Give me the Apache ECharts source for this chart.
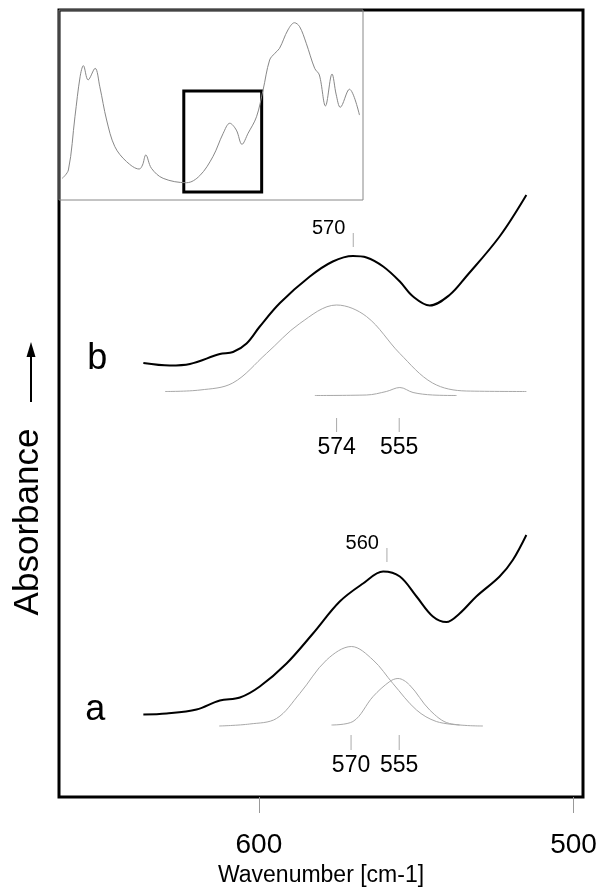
<!DOCTYPE html>
<html>
<head>
<meta charset="utf-8">
<script src="https://cdn.jsdelivr.net/npm/echarts@6/dist/echarts.min.js"></script>
<style>
  html, body { margin: 0; padding: 0; background: #fff; }
  #chart { width: 601px; height: 894px; }
</style>
</head>
<body>
<div id="chart"></div>
<script>
// wide survey spectrum shown in the inset, [wavenumber, absorbance]
const surveySpectrum = [
  [923, 0.114], [910, 0.158], [896, 0.438], [885, 0.649], [878, 0.707], [868, 0.632],
  [853, 0.693], [843, 0.596], [828.5, 0.421], [811, 0.281], [786, 0.202], [759, 0.163],
  [752, 0.184], [745, 0.237], [733, 0.167], [708, 0.114], [658, 0.091], [630, 0.128],
  [602, 0.228], [580, 0.351], [566, 0.404], [552, 0.368], [540, 0.293], [527, 0.351],
  [509, 0.438], [495, 0.579], [481, 0.737], [470, 0.772], [460, 0.798], [442, 0.895],
  [428, 0.933], [417, 0.912], [403, 0.825], [385, 0.693], [375, 0.658], [362, 0.495],
  [348, 0.663], [339, 0.553], [330.5, 0.488], [311, 0.583], [289.5, 0.447]
];
// zoomed region marked in the inset: wavenumbers and absorbance span
const zoomWn = [664, 498];
const zoomAbs = [0.042, 0.574];

// sample b: measured and fitted components
const curveB = [
  [636.7, 0.868], [628.3, 0.863], [621.9, 0.866], [612.4, 0.886], [608.2, 0.890],
  [603.9, 0.907], [599.7, 0.941], [593.3, 0.988], [583.8, 1.041], [576.5, 1.071],
  [570.1, 1.082], [565.8, 1.079], [560.5, 1.061], [555.2, 1.031], [551.0, 1.001],
  [545.7, 0.983], [539.4, 1.004], [534.1, 1.041], [523.5, 1.121], [515.0, 1.204]
];
const fitB574 = [
  [629.8, 0.811], [618.7, 0.814], [608.3, 0.828], [597.6, 0.887], [587.0, 0.947],
  [575.3, 0.984], [565.8, 0.961], [555.2, 0.887], [544.8, 0.828], [534.1, 0.812],
  [515.0, 0.811]
];
const fitB555 = [
  [582.2, 0.803], [565.8, 0.804], [559.5, 0.811], [555.2, 0.819], [551.0, 0.809],
  [544.8, 0.804], [537.2, 0.803]
];

// sample a: measured and fitted components
const curveA = [
  [636.7, 0.165], [629.3, 0.167], [619.8, 0.175], [612.4, 0.193], [606.0, 0.199],
  [599.7, 0.221], [591.2, 0.267], [582.8, 0.327], [574.3, 0.391], [566.9, 0.427],
  [560.5, 0.451], [555.2, 0.441], [549.9, 0.401], [544.7, 0.361], [540.4, 0.350],
  [536.2, 0.367], [530.9, 0.401], [523.5, 0.441], [519.3, 0.474], [515.0, 0.524]
];
const fitA570 = [
  [612.6, 0.142], [602.9, 0.146], [594.4, 0.157], [587.0, 0.207], [578.5, 0.274],
  [570.6, 0.301], [563.7, 0.274], [557.4, 0.227], [549.9, 0.174], [543.6, 0.151],
  [536.2, 0.144]
];
const fitA555 = [
  [576.9, 0.144], [570.1, 0.151], [563.7, 0.201], [558.4, 0.231], [555.8, 0.237],
  [552.1, 0.224], [545.7, 0.174], [539.4, 0.147], [528.8, 0.142]
];

// peak markers: position, tick span and text
const peakWn = [570, 575.3, 555.4, 559.3, 570.7, 555.4];
const peakTickTop = [1.128, 0.758, 0.758, 0.498, 0.124, 0.124];
const peakTickBottom = [1.100, 0.730, 0.730, 0.470, 0.094, 0.094];
const peakText = ['570', '574', '555', '560', '570', '555'];
const peakSide = ['left', 'below', 'below', 'left', 'below', 'below'];

const xTicks = [600, 500];
const FONT = "'Liberation Sans', Arial, sans-serif";

const chart = echarts.init(document.getElementById('chart'));

function spectrum(name, data, color, width, extra) {
  return Object.assign({
    name: name,
    type: 'line',
    xAxisIndex: 0,
    yAxisIndex: 0,
    data: data,
    smooth: 0.35,
    symbol: 'none',
    silent: true,
    lineStyle: { color: color, width: width },
    z: 3
  }, extra || {});
}

function letter(text, point, offset) {
  return {
    symbol: 'rect',
    symbolSize: 1,
    silent: true,
    itemStyle: { color: 'rgba(0,0,0,0)' },
    label: {
      show: true, position: 'inside', offset: offset, formatter: text,
      fontFamily: FONT, fontSize: 36, color: '#000'
    },
    data: [{ coord: point }]
  };
}

chart.setOption({
  animation: false,
  backgroundColor: '#fff',
  grid: [
    { left: 59, top: 10, width: 524, height: 787, show: true, borderColor: '#000', borderWidth: 3, backgroundColor: 'transparent' },
    { left: 59, top: 10, width: 304, height: 190, show: true, borderColor: '#888', borderWidth: 1, backgroundColor: 'transparent' }
  ],
  xAxis: [
    {
      type: 'value', gridIndex: 0, inverse: true, min: 497, max: 663.5,
      axisLine: { show: false },
      splitLine: { show: false },
      axisTick: { show: true, customValues: xTicks, length: 16, lineStyle: { color: '#999', width: 1 } },
      axisLabel: { customValues: xTicks, margin: 34, fontSize: 28, color: '#000', fontFamily: FONT },
      name: 'Wavenumber [cm-1]', nameLocation: 'middle', nameGap: 66,
      nameTextStyle: { fontSize: 23, color: '#000', fontFamily: FONT }
    },
    { type: 'value', gridIndex: 1, inverse: true, min: 282, max: 930, show: false }
  ],
  yAxis: [
    { type: 'value', gridIndex: 0, min: 0, max: 1.574, show: false },
    { type: 'value', gridIndex: 1, min: 0, max: 1, show: false }
  ],
  graphic: [
    {
      type: 'text', x: 28, y: 522, rotation: Math.PI / 2,
      style: { text: 'Absorbance', font: '35px ' + FONT, fill: '#000', align: 'center', verticalAlign: 'middle' }
    },
    { type: 'line', shape: { x1: 31, y1: 402, x2: 31, y2: 352 }, style: { stroke: '#000', lineWidth: 2 } },
    { type: 'polygon', shape: { points: [[31, 342], [26.5, 357], [35.5, 357]] }, style: { fill: '#000' } }
  ],
  series: [
    {
      name: 'survey', type: 'line', xAxisIndex: 1, yAxisIndex: 1,
      data: surveySpectrum, smooth: 0.35, symbol: 'none', silent: true,
      lineStyle: { color: '#888', width: 1 },
      markArea: {
        silent: true,
        itemStyle: { color: 'rgba(0,0,0,0)', borderColor: '#000', borderWidth: 3 },
        data: [[{ coord: [zoomWn[0], zoomAbs[0]] }, { coord: [zoomWn[1], zoomAbs[1]] }]]
      }
    },
    spectrum('b', curveB, '#000', 2, { markPoint: letter('b', curveB[0], [-46, -4]) }),
    spectrum('b 574', fitB574, '#a8a8a8', 1),
    spectrum('b 555', fitB555, '#a8a8a8', 1),
    spectrum('a', curveA, '#000', 2, { markPoint: letter('a', curveA[0], [-48, -4]) }),
    spectrum('a 570', fitA570, '#a8a8a8', 1),
    spectrum('a 555', fitA555, '#a8a8a8', 1),
    {
      name: 'peaks', type: 'custom', xAxisIndex: 0, yAxisIndex: 0, silent: true,
      data: peakWn.map((wn, i) => [wn, peakTickTop[i], peakTickBottom[i]]),
      renderItem: function (params, api) {
        const i = params.dataIndex;
        const top = api.coord([api.value(0), api.value(1)]);
        const bot = api.coord([api.value(0), api.value(2)]);
        const left = peakSide[i] === 'left';
        return {
          type: 'group',
          children: [
            {
              type: 'line',
              shape: { x1: top[0], y1: top[1], x2: bot[0], y2: bot[1] },
              style: { stroke: '#aaa', lineWidth: 1 }
            },
            {
              type: 'text',
              x: left ? top[0] - 8 : bot[0],
              y: left ? top[1] + 5 : bot[1] + 4,
              style: {
                text: peakText[i],
                font: (left ? 20 : 23) + 'px ' + FONT,
                fill: '#000',
                align: left ? 'right' : 'center',
                verticalAlign: left ? 'bottom' : 'top'
              }
            }
          ]
        };
      }
    }
  ]
});
</script>
</body>
</html>
